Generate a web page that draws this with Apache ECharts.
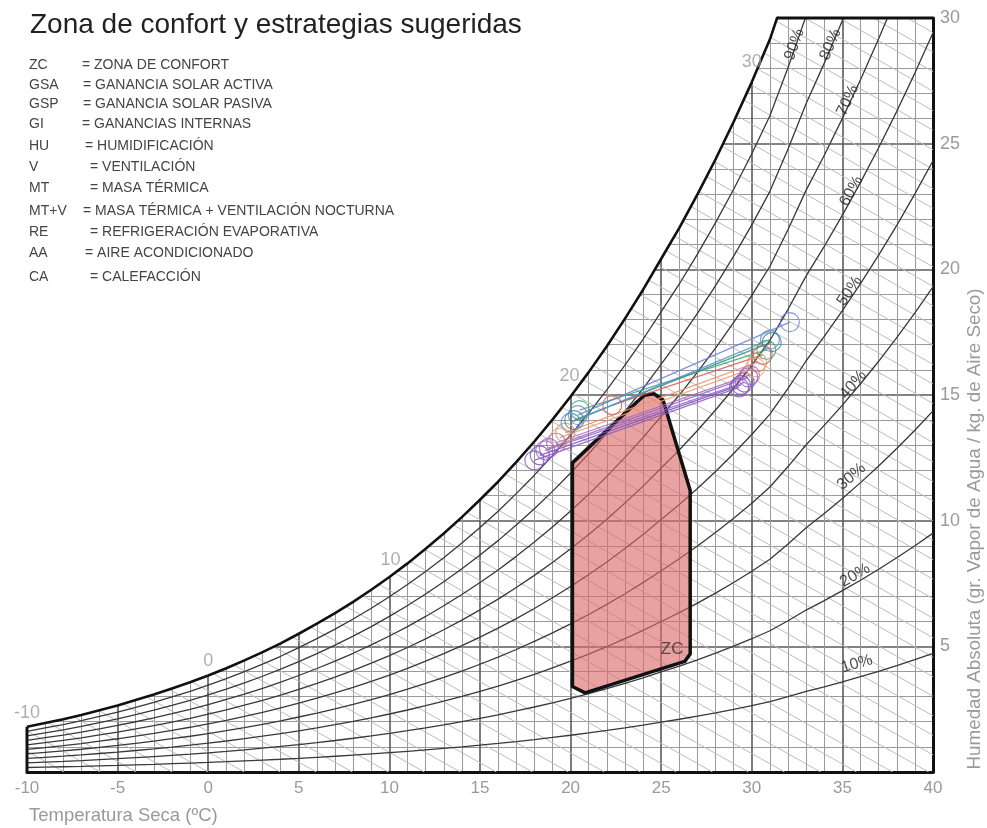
<!DOCTYPE html>
<html><head><meta charset="utf-8">
<script src="https://cdn.jsdelivr.net/npm/echarts@6/dist/echarts.min.js"></script>
<style>html,body{margin:0;padding:0;background:#fff}#c{width:987px;height:828px}</style>
</head><body><div id="c"></div>
<script>
// ---------- DATA ----------
const P = 98.0; // kPa, pressure used for the relative-humidity curves
const satTemps = [-10,-9,-8,-7,-6,-5,-4,-3,-2,-1,0,1,2,3,4,5,6,7,8,9,10,11,12,13,14,15,16,17,18,19,20,21,22,23,24,25,26,27,28,29,30,31,32,33,34,35,36,37,38,39,40];
const satHumidity = [1.80,1.95,2.10,2.27,2.46,2.65,2.86,3.08,3.32,3.57,3.84,4.13,4.44,4.77,5.12,5.50,5.90,6.32,6.77,7.25,7.76,8.30,8.88,9.49,10.14,10.83,11.55,12.33,13.15,14.02,14.94,15.91,16.94,18.04,19.19,20.42,21.65,22.98,24.38,25.87,27.45,29.15,31.30,33.61,35.66,37.83,40.11,42.53,45.08,47.77,50.62];
const rhLevels = [10,20,30,40,50,60,70,80,90];
const satLabelTemps = [-10,0,10,20,30];
const satLabelTexts = ['-10','0','10','20','30'];

const comfortT = [20.1,20.1,23.7,24.1,24.6,25.1,26.6,26.6,26.3,20.8,20.1];
const comfortW = [3.6,12.3,14.75,15.0,15.05,14.8,11.2,4.7,4.4,3.15,3.4];

const months = ['Ene','Feb','Mar','Abr','May','Jun','Jul','Ago','Sep','Oct','Nov','Dic'];
const monthTmin = [18.0,18.6,19.2,19.7,22.3,20.5,20.2,20.4,20.0,19.4,18.8,18.3];
const monthWmin = [12.4,12.8,13.1,13.5,14.6,14.4,14.0,14.2,13.9,13.3,12.9,12.6];
const monthTmax = [29.3,29.6,29.9,30.3,30.6,30.8,31.1,32.1,31.0,30.2,29.8,29.4];
const monthWmax = [15.3,15.5,15.8,16.3,16.6,16.8,17.1,17.9,17.2,16.1,15.7,15.4];

const legendAbbr = ['ZC','GSA','GSP','GI','HU','V','MT','MT+V','RE','AA','CA'];
const legendDesc = ['= ZONA DE CONFORT','= GANANCIA SOLAR ACTIVA','= GANANCIA SOLAR PASIVA','= GANANCIAS INTERNAS','= HUMIDIFICACIÓN','= VENTILACIÓN','= MASA TÉRMICA','= MASA TÉRMICA + VENTILACIÓN NOCTURNA','= REFRIGERACIÓN EVAPORATIVA','= AIRE ACONDICIONADO','= CALEFACCIÓN'];

// ---------- STYLE / LAYOUT ----------
const FONT = '"Liberation Sans", Arial, Helvetica, sans-serif';
const monthColors = ['#8a58c0','#9466cc','#a86ab8','#e8946c','#d85a55','#3da57c','#2f8f70','#6a80d8','#5b90d8','#ee9f72','#9962c8','#7c50b8'];
const legendDescX = [82,83,83,82,85,90,90,83,90,85,90];
const legendY = [65,85,104,124,146,167,188,211,232,253,277];
const satLabelOffset = [[0,-14],[0,-14],[1,-17],[-1,-20],[0,-20]];
const rhLabelTemps = [35.8,35.7,35.5,35.6,35.4,35.5,35.3,34.35,32.35];
const rhLabelLift = [0.55,0.32,0.55,0.3,0.35,0.3,0.25,0.15,0.2];

// ---------- helpers ----------
function satAt(t){
  let i = Math.floor(t - satTemps[0]);
  i = Math.max(0, Math.min(satTemps.length - 2, i));
  const f = t - satTemps[i];
  return satHumidity[i] + f * (satHumidity[i+1] - satHumidity[i]);
}
function rhW(ws, rh){ const pws = P*ws/(622+ws); const pw = pws*rh/100; return 622*pw/(P-pw); }
function tAtSat(w){
  for (let i=0;i<satHumidity.length-1;i++){
    if (satHumidity[i] <= w && satHumidity[i+1] >= w){
      return satTemps[i] + (w - satHumidity[i])/(satHumidity[i+1]-satHumidity[i]);
    }
  }
  return satTemps[satTemps.length-1];
}
const pxPerT = (933-27)/50, pxPerW = (772-18)/30;
const tTop = tAtSat(30);

const series = [];

// enthalpy lines (grey diagonals)
const hSegs = [];
for (let h=-10; h<=118; h+=2){
  const wOf = t => (h - 1.006*t)/(2.501 + 0.00186*t);
  const ta = Math.max(-10, (h - 30*2.501)/(1.006 + 30*0.00186));
  const tb = Math.min(40, h/1.006);
  if (ta < tb) hSegs.push([ta, wOf(ta), tb, wOf(tb)]);
}
series.push({
  type:'custom', z:1, silent:true, clip:true,
  data: hSegs,
  encode:{x:[0,2], y:[1,3]},
  renderItem:function(params, api){
    const p1 = api.coord([api.value(0), api.value(1)]);
    const p2 = api.coord([api.value(2), api.value(3)]);
    return {type:'line', shape:{x1:p1[0],y1:p1[1],x2:p2[0],y2:p2[1]}, style:{stroke:'#bcbcbc', lineWidth:1}};
  }
});

// white mask above the saturation curve
series.push({
  type:'custom', z:2, silent:true, clip:false,
  data:[[-10, 30]],
  renderItem:function(params, api){
    const pts = [];
    satTemps.forEach((t,i)=>{ if (t < tTop) pts.push(api.coord([t, satHumidity[i]])); });
    const pTop = api.coord([tTop, 30]);
    pts.push(pTop);
    pts.push([pTop[0], pTop[1]-5]);
    const p0 = api.coord([-10, satHumidity[0]]);
    pts.push([p0[0]-5, pTop[1]-5]);
    pts.push([p0[0]-5, p0[1]]);
    return {type:'polygon', shape:{points:pts}, style:{fill:'#ffffff', stroke:null}};
  }
});

// saturation curve
series.push({
  type:'line', z:3, silent:true, symbol:'none', clip:true,
  data: satTemps.map((t,i)=>[t, satHumidity[i]]),
  lineStyle:{color:'#111', width:2.6, join:'round'}
});

// relative humidity curves
rhLevels.forEach(rh=>{
  series.push({
    type:'line', z:3, silent:true, symbol:'none', clip:true,
    data: satTemps.map((t,i)=>[t, rhW(satHumidity[i], rh)]),
    lineStyle:{color:'#383838', width:1.3}
  });
});

// frame borders (top & left)
series.push({type:'line', z:3, silent:true, symbol:'none', clip:false,
  data:[[tTop,30],[40,30]], lineStyle:{color:'#111', width:3}});
series.push({type:'line', z:3, silent:true, symbol:'none', clip:false,
  data:[[-10,0],[-10,satHumidity[0]]], lineStyle:{color:'#111', width:3}});

// comfort zone
series.push({
  type:'custom', z:4, silent:true,
  data:[[comfortT[0], comfortW[0]]],
  renderItem:function(params, api){
    const pts = comfortT.map((t,i)=>api.coord([t, comfortW[i]]));
    return {type:'polygon', shape:{points:pts}, style:{fill:'rgba(218,105,105,0.62)', stroke:'#111', lineWidth:3.5, lineJoin:'round'}};
  }
});

// monthly lines
months.forEach((m,i)=>{
  series.push({
    type:'line', name:m, z:5, silent:true, symbol:'circle', symbolSize:19,
    data:[[monthTmin[i], monthWmin[i]],[monthTmax[i], monthWmax[i]]],
    lineStyle:{color:monthColors[i], width:1.3, opacity:0.85},
    itemStyle:{color:'rgba(255,255,255,0)', borderColor:monthColors[i], borderWidth:1.2, opacity:0.8}
  });
});

// RH labels
series.push({
  type:'scatter', z:6, silent:true, symbolSize:0,
  data: rhLevels.map((rh,i)=>{
    const t = rhLabelTemps[i];
    const w = rhW(satAt(t), rh) + rhLabelLift[i];
    const w2 = rhW(satAt(t+0.5), rh), w1 = rhW(satAt(t-0.5), rh);
    const ang = Math.atan((w2-w1)*pxPerW/pxPerT)*180/Math.PI;
    return {value:[t,w], label:{show:true, formatter:rh+'%', rotate:ang}};
  }),
  label:{show:true, position:'inside', color:'#222', fontSize:16, fontFamily:FONT}
});

// saturation (wet bulb) labels
series.push({
  type:'scatter', z:6, silent:true, symbolSize:0,
  data: satLabelTemps.map((t,i)=>({value:[t, satAt(t)], label:{show:true, formatter:satLabelTexts[i], offset:satLabelOffset[i]}})),
  label:{show:true, position:'inside', color:'#9a9a9a', fontSize:18, fontFamily:FONT}
});

// ZC label
series.push({
  type:'scatter', z:6, silent:true, symbolSize:0,
  data:[{value:[25.6,4.9], label:{show:true, formatter:'ZC'}}],
  label:{show:true, position:'inside', color:'#333', fontSize:17, fontFamily:FONT}
});

// ---------- graphic texts ----------
const graphics = [];
graphics.push({type:'text', z:100, x:30, y:25, style:{text:'Zona de confort y estrategias sugeridas', font:'28px '+FONT, fill:'#222', align:'left', verticalAlign:'middle'}});
legendAbbr.forEach((a,i)=>{
  graphics.push({type:'text', z:100, x:29, y:legendY[i], style:{text:a, font:'14px '+FONT, fill:'#444', align:'left', verticalAlign:'middle'}});
  graphics.push({type:'text', z:100, x:legendDescX[i], y:legendY[i], style:{text:legendDesc[i], font:'14px '+FONT, fill:'#444', align:'left', verticalAlign:'middle'}});
});
graphics.push({type:'text', z:100, x:29, y:816, style:{text:'Temperatura Seca (ºC)', font:'18.5px '+FONT, fill:'#9a9a9a', align:'left', verticalAlign:'middle'}});
graphics.push({type:'text', z:100, x:975, y:529, rotation:Math.PI/2, style:{text:'Humedad Absoluta (gr. Vapor de Agua / kg. de Aire Seco)', font:'18.8px '+FONT, fill:'#9a9a9a', align:'center', verticalAlign:'middle'}});

const chart = echarts.init(document.getElementById('c'));
chart.setOption({
  animation:false,
  backgroundColor:'#ffffff',
  grid:{left:27, right:54, top:18, bottom:56, containLabel:false},
  xAxis:{
    type:'value', min:-10, max:40, interval:5,
    axisLine:{show:true, onZero:false, lineStyle:{color:'#111', width:3}},
    axisTick:{show:false},
    axisLabel:{color:'#9a9a9a', fontSize:17, fontFamily:FONT, margin:8},
    splitLine:{show:true, showMinLine:false, showMaxLine:false, lineStyle:{color:'#5a5a5a', width:1.6}},
    minorTick:{show:false, splitNumber:5},
    minorSplitLine:{show:true, lineStyle:{color:'#9a9a9a', width:1}}
  },
  yAxis:{
    type:'value', position:'right', min:0, max:30, interval:5,
    axisLine:{show:true, onZero:false, lineStyle:{color:'#111', width:3}},
    axisTick:{show:false},
    axisLabel:{color:'#9a9a9a', fontSize:18, fontFamily:FONT, margin:7, formatter:v=> v===0 ? '' : String(v)},
    splitLine:{show:true, showMinLine:false, showMaxLine:false, lineStyle:{color:'#5a5a5a', width:1.6}},
    minorTick:{show:false, splitNumber:5},
    minorSplitLine:{show:true, lineStyle:{color:'#9a9a9a', width:1}}
  },
  graphic: graphics,
  series: series
});
</script>
</body></html>
